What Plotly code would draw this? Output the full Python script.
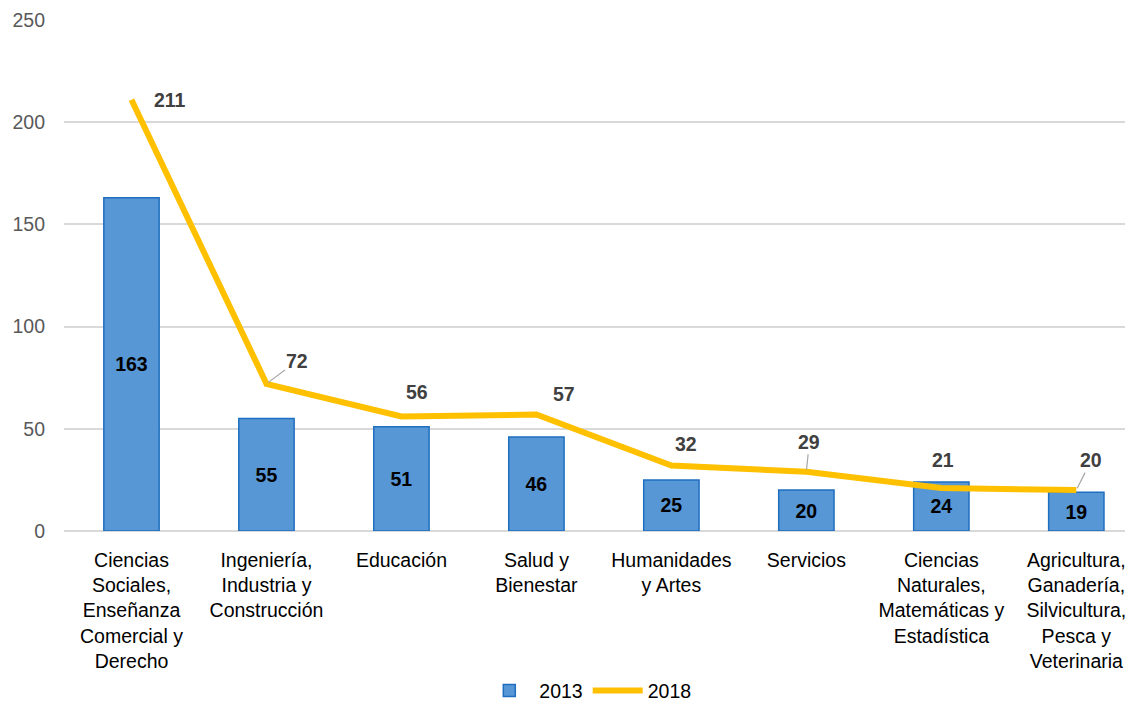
import plotly.graph_objects as go

categories = [
    "Ciencias<br>Sociales,<br>Enseñanza<br>Comercial y<br>Derecho",
    "Ingeniería,<br>Industria y<br>Construcción",
    "Educación",
    "Salud y<br>Bienestar",
    "Humanidades<br>y Artes",
    "Servicios",
    "Ciencias<br>Naturales,<br>Matemáticas y<br>Estadística",
    "Agricultura,<br>Ganadería,<br>Silvicultura,<br>Pesca y<br>Veterinaria",
]
values_2013 = [163, 55, 51, 46, 25, 20, 24, 19]
values_2018 = [211, 72, 56, 57, 32, 29, 21, 20]
y_ticks = [0, 50, 100, 150, 200, 250]

FONT = "Liberation Sans, Arial, sans-serif"
FS = 19.5

xs = list(range(len(categories)))

fig = go.Figure()
fig.add_trace(go.Bar(
    x=xs, y=values_2013, name="2013",
    marker=dict(color="#5797D5", line=dict(color="#1F6FC0", width=1.5)),
    width=0.41,
    text=[str(v) for v in values_2013],
    textposition="inside", insidetextanchor="middle",
    textfont=dict(family=FONT, size=FS, color="#000000", weight="bold"),
    constraintext="none",
))
fig.add_trace(go.Scatter(
    x=xs, y=values_2018, name="2018", mode="lines",
    line=dict(color="#FFC000", width=6),
))

# label offsets (pixels) for 2018 values
offsets = [(39, 0), (31, 23), (16, 25), (28, 20), (15, 22), (3, 30), (2, 28), (15, 30)]
leaders = {1, 5, 7}
for i, (v, (dx, dy)) in enumerate(zip(values_2018, offsets)):
    if i in leaders:
        fig.add_annotation(
            x=xs[i], y=v, xref="x", yref="y", text=f"<b>{v}</b>",
            showarrow=True, arrowhead=0, arrowwidth=1.2, arrowcolor="#A6A6A6",
            ax=dx, ay=-dy, standoff=2,
            font=dict(family=FONT, size=FS, color="#404040"),
        )
    else:
        fig.add_annotation(
            x=xs[i], y=v, xref="x", yref="y", text=f"<b>{v}</b>",
            showarrow=False, xshift=dx, yshift=dy,
            font=dict(family=FONT, size=FS, color="#404040"),
        )

fig.update_layout(
    width=1125, height=693,
    margin=dict(l=56, r=0, t=12, b=170, autoexpand=False),
    paper_bgcolor="white", plot_bgcolor="white",
    font=dict(family=FONT, size=FS, color="#000000"),
    showlegend=True,
    legend=dict(orientation="h", x=0.49, xanchor="center", y=-0.313, yanchor="middle",
                font=dict(family=FONT, size=FS, color="#000000"),
                itemwidth=50, tracegroupgap=0),
    bargap=0.59,
)
fig.update_xaxes(
    tickmode="array", tickvals=xs, ticktext=categories,
    range=[-0.5, 7.42], showgrid=False, zeroline=False, showline=False,
    ticks="", tickfont=dict(family=FONT, size=FS, color="#000000"),
    tickangle=0, automargin=False, ticklabelstandoff=15,
)
fig.update_yaxes(
    range=[0, 250], tickvals=y_ticks, showgrid=True, gridcolor="#D9D9D9", gridwidth=1.5,
    zeroline=True, zerolinecolor="#D9D9D9", zerolinewidth=1.5, automargin=False,
    tickfont=dict(family=FONT, size=FS, color="#595959"), ticks="", ticklabelstandoff=18,
)

fig.write_html("out.html")
